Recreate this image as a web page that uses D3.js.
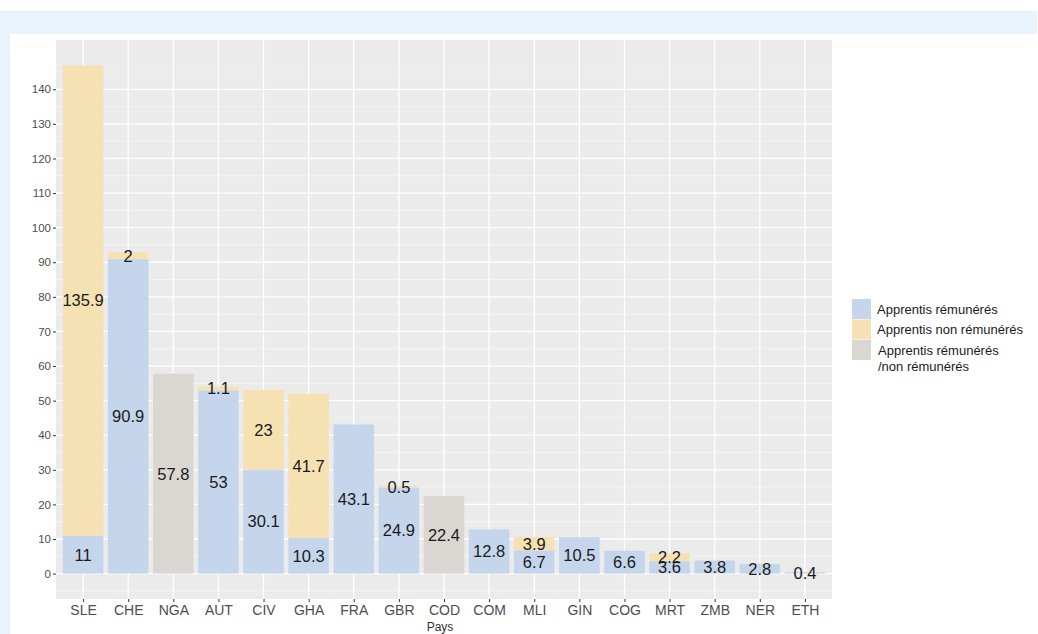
<!DOCTYPE html>
<html>
<head>
<meta charset="utf-8">
<script src="https://cdn.jsdelivr.net/npm/d3@7"></script>
<style>
  body { margin: 0; background: #fff; }
  svg { display: block; font-family: "Liberation Sans", Arial, sans-serif; }
</style>
</head>
<body>
<div id="chart"></div>
<script>
// data
var countries = ["SLE", "CHE", "NGA", "AUT", "CIV", "GHA", "FRA", "GBR", "COD", "COM", "MLI", "GIN", "COG", "MRT", "ZMB", "NER", "ETH"];
var paid   = [11, 90.9, 0, 53, 30.1, 10.3, 43.1, 24.9, 0, 12.8, 6.7, 10.5, 6.6, 3.6, 3.8, 2.8, 0.4];
var unpaid = [135.9, 2, 0, 1.1, 23, 41.7, 0, 0.5, 0, 0, 3.9, 0, 0, 2.2, 0, 0, 0];
var mixed  = [0, 0, 57.8, 0, 0, 0, 0, 0, 22.4, 0, 0, 0, 0, 0, 0, 0, 0];
var seriesKeys = ["paid", "unpaid", "mixed"];
var seriesNames = ["Apprentis rémunérés", "Apprentis non rémunérés", ["Apprentis rémunérés", "/non rémunérés"]];
var seriesColors = ["#c5d6ec", "#f6e1b2", "#dad7d3"];
var yTicks = [0, 10, 20, 30, 40, 50, 60, 70, 80, 90, 100, 110, 120, 130, 140];

var W = 1038, H = 634;
var panel = { left: 56, right: 832, top: 40, bottom: 599 };

var rows = countries.map(function(c, i) {
    return { country: c, paid: paid[i], unpaid: unpaid[i], mixed: mixed[i] };
});

var svg = d3.select("#chart").append("svg")
    .attr("width", W)
    .attr("height", H);

// light blue frame from the screenshot
svg.append("rect").attr("x", 0).attr("y", 11).attr("width", 1037).attr("height", 23).attr("fill", "#e8f3fd");
svg.append("rect").attr("x", 0).attr("y", 11).attr("width", 10).attr("height", H - 11).attr("fill", "#e8f3fd");

// x: point scale with ggplot's 0.6 expansion on each side
var x = d3.scalePoint()
    .domain(countries)
    .range([panel.left, panel.right])
    .padding(0.6);
var barW = x.step() * 0.9;

var maxTotal = d3.max(rows, function(d) { return d.paid + d.unpaid + d.mixed; });
var y = d3.scaleLinear()
    .domain([-maxTotal * 0.05, maxTotal * 1.05])
    .range([panel.bottom, panel.top]);

// panel background
svg.append("rect")
    .attr("x", panel.left).attr("y", panel.top)
    .attr("width", panel.right - panel.left).attr("height", panel.bottom - panel.top)
    .attr("fill", "#ebebeb");

// minor grid
var minor = d3.range(-5, 155, 10).filter(function(v) { return y(v) > panel.top && y(v) < panel.bottom; });
svg.append("g").selectAll("line").data(minor).enter().append("line")
    .attr("x1", panel.left).attr("x2", panel.right)
    .attr("y1", function(d) { return y(d); }).attr("y2", function(d) { return y(d); })
    .attr("stroke", "#f5f5f5").attr("stroke-width", 0.8);

// major grid
svg.append("g").selectAll("line").data(yTicks).enter().append("line")
    .attr("x1", panel.left).attr("x2", panel.right)
    .attr("y1", function(d) { return y(d); }).attr("y2", function(d) { return y(d); })
    .attr("stroke", "#fff").attr("stroke-width", 1.3);
svg.append("g").selectAll("line").data(countries).enter().append("line")
    .attr("y1", panel.top).attr("y2", panel.bottom)
    .attr("x1", function(d) { return x(d); }).attr("x2", function(d) { return x(d); })
    .attr("stroke", "#fff").attr("stroke-width", 1.3);

// stacked bars
var stack = d3.stack().keys(seriesKeys)(rows);
var labels = [];
stack.forEach(function(layer, k) {
    svg.append("g").selectAll("rect").data(layer).enter().append("rect")
        .attr("x", function(d) { return x(d.data.country) - barW / 2; })
        .attr("width", barW)
        .attr("y", function(d) { return y(d[1]); })
        .attr("height", function(d) { return y(d[0]) - y(d[1]); })
        .attr("fill", seriesColors[k]);
    layer.forEach(function(d) {
        var v = d[1] - d[0];
        if (v > 0) labels.push({ country: d.data.country, v: v, mid: (d[0] + d[1]) / 2 });
    });
});

// value labels, centred in each segment
svg.append("g").selectAll("text").data(labels).enter().append("text")
    .attr("x", function(d) { return x(d.country); })
    .attr("y", function(d) { return y(d.mid); })
    .attr("dy", "0.36em")
    .attr("text-anchor", "middle")
    .attr("font-size", 16.5)
    .attr("fill", "#1a1a1a")
    .text(function(d) { return d3.format("~g")(+d.v.toFixed(1)); });

// axes
var yAxis = svg.append("g")
    .attr("transform", "translate(" + panel.left + ",0)")
    .call(d3.axisLeft(y).tickValues(yTicks).tickSize(3).tickPadding(2));
yAxis.select(".domain").remove();
yAxis.selectAll("line").attr("stroke", "#333");
yAxis.selectAll("text").attr("font-size", 11.5).attr("fill", "#4d4d4d").style("font-family", "Liberation Sans, Arial, sans-serif");

var xAxis = svg.append("g")
    .attr("transform", "translate(0," + panel.bottom + ")")
    .call(d3.axisBottom(x).tickSize(3).tickPadding(3));
xAxis.select(".domain").remove();
xAxis.selectAll("line").attr("stroke", "#333");
xAxis.selectAll("text").attr("font-size", 14).attr("fill", "#4d4d4d").style("font-family", "Liberation Sans, Arial, sans-serif");

svg.append("text")
    .attr("x", 440).attr("y", 631)
    .attr("text-anchor", "middle")
    .attr("font-size", 12)
    .attr("fill", "#333")
    .text("Pays");

// legend
var legend = svg.append("g").attr("transform", "translate(852,299)");
seriesKeys.forEach(function(k, i) {
    legend.append("rect")
        .attr("x", 0).attr("y", i * 20.5)
        .attr("width", 19).attr("height", 20)
        .attr("fill", seriesColors[i]);
    var name = seriesNames[i];
    var t = legend.append("text")
        .attr("x", 25).attr("y", i * 20.5 + 10)
        .attr("dy", "0.35em")
        .attr("font-size", 13)
        .attr("fill", "#1a1a1a");
    if (Array.isArray(name)) {
        name.forEach(function(line, j) {
            t.append("tspan").attr("x", 26).attr("dy", j === 0 ? "0.35em" : "1.25em").text(line);
        });
    } else {
        t.text(name);
    }
});
</script>
</body>
</html>
